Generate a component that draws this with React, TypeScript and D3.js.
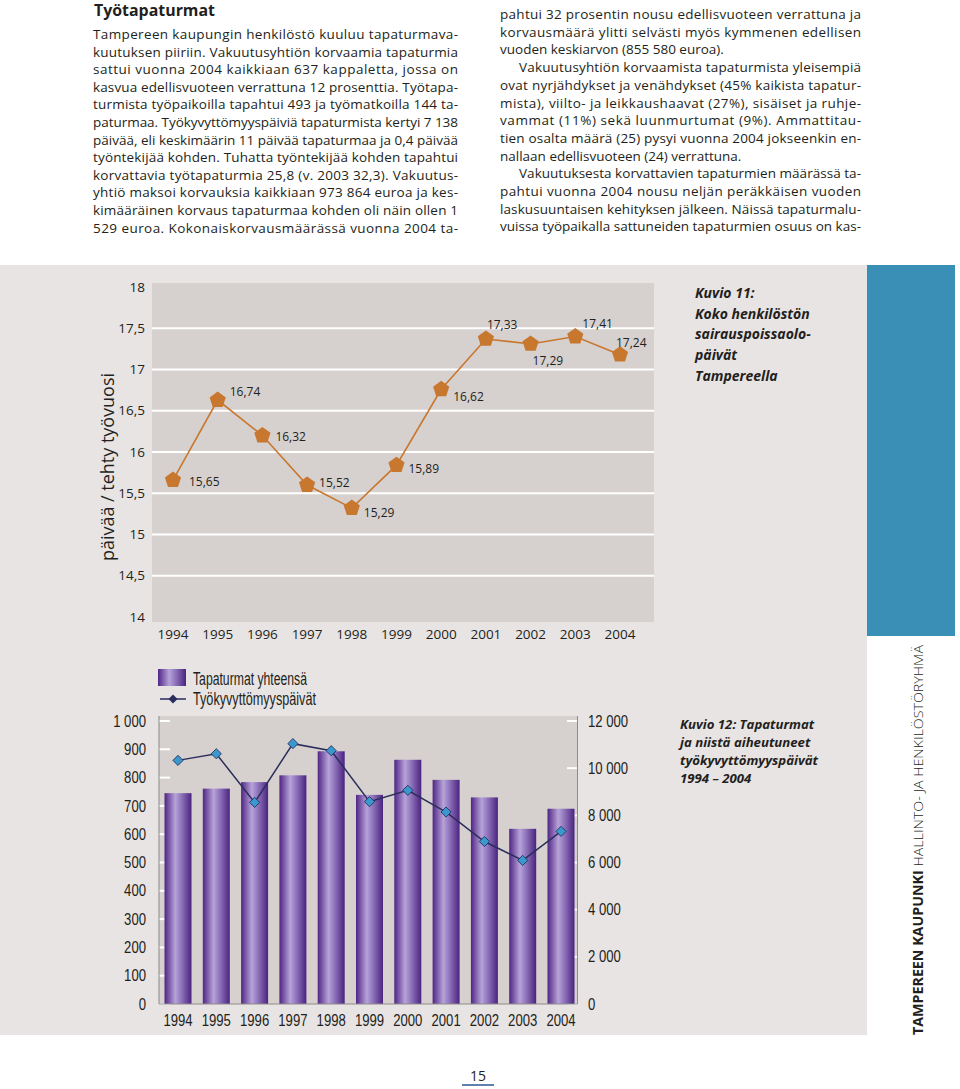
import React from "react";
import * as d3 from "d3";

// ---------- data ----------
const years = ["1994", "1995", "1996", "1997", "1998", "1999", "2000", "2001", "2002", "2003", "2004"];
// Kuvio 11: sick-leave days per work-year (marker positions as drawn) and printed labels
const sickDays = [15.66, 16.63, 16.2, 15.6, 15.32, 15.84, 16.76, 17.37, 17.31, 17.4, 17.18];
const sickDayLabels = ["15,65", "16,74", "16,32", "15,52", "15,29", "15,89", "16,62", "17,33", "17,29", "17,41", "17,24"];
const sickTicks = [14, 14.5, 15, 15.5, 16, 16.5, 17, 17.5, 18];
// label placement relative to marker [dx, dy]
const sickLabelOffsets: [number, number][] = [
  [16, 2], [12, -8], [13, 1], [12, -2], [12, 5], [12, 4], [12, 7], [1, -14], [2, 17], [7, -13], [-4, -12],
];

// Kuvio 12: accidents (left axis) and incapacity days (right axis)
const accidents = [745, 761, 784, 808, 893, 739, 863, 792, 730, 619, 690];
const incapacityDays = [10330, 10610, 8550, 11040, 10740, 8580, 9060, 8140, 6890, 6090, 7320];
const accTicks = [0, 100, 200, 300, 400, 500, 600, 700, 800, 900, 1000];
const dayTicks = [0, 2000, 4000, 6000, 8000, 10000, 12000];

const leftLines = [
  "Tampereen kaupungin henkilöstö kuuluu tapaturmava-",
  "kuutuksen piiriin. Vakuutusyhtiön korvaamia tapaturmia",
  "sattui vuonna 2004 kaikkiaan 637 kappaletta, jossa on",
  "kasvua edellisvuoteen verrattuna 12 prosenttia. Työtapa-",
  "turmista työpaikoilla tapahtui 493 ja työmatkoilla 144 ta-",
  "paturmaa. Työkyvyttömyyspäiviä tapaturmista kertyi 7 138",
  "päivää, eli keskimäärin 11 päivää tapaturmaa ja 0,4 päivää",
  "työntekijää kohden. Tuhatta työntekijää kohden tapahtui",
  "korvattavia työtapaturmia 25,8 (v. 2003 32,3). Vakuutus-",
  "yhtiö maksoi korvauksia kaikkiaan 973 864 euroa ja kes-",
  "kimääräinen korvaus tapaturmaa kohden oli näin ollen 1",
  "529 euroa. Kokonaiskorvausmäärässä vuonna 2004 ta-",
];
// [text, indent, justified]
const rightLines: [string, boolean, boolean][] = [
  ["pahtui 32 prosentin nousu edellisvuoteen verrattuna ja", false, true],
  ["korvausmäärä ylitti selvästi myös kymmenen edellisen", false, true],
  ["vuoden keskiarvon (855 580 euroa).", false, false],
  ["Vakuutusyhtiön korvaamista tapaturmista yleisempiä", true, true],
  ["ovat nyrjähdykset ja venähdykset (45% kaikista tapatur-", false, true],
  ["mista), viilto- ja leikkaushaavat (27%), sisäiset ja ruhje-", false, true],
  ["vammat (11%) sekä luunmurtumat (9%). Ammattitau-", false, true],
  ["tien osalta määrä (25) pysyi vuonna 2004 jokseenkin en-", false, true],
  ["nallaan edellisvuoteen (24) verrattuna.", false, false],
  ["Vakuutuksesta korvattavien tapaturmien määrässä ta-", true, true],
  ["pahtui vuonna 2004 nousu neljän peräkkäisen vuoden", false, true],
  ["laskusuuntaisen kehityksen jälkeen. Näissä tapaturmalu-", false, true],
  ["vuissa työpaikalla sattuneiden tapaturmien osuus on kas-", false, true],
];
const caption11 = ["Kuvio 11:", "Koko henkilöstön", "sairauspoissaolo-", "päivät", "Tampereella"];
const caption12 = ["Kuvio 12: Tapaturmat", "ja niistä aiheutuneet", "työkyvyttömyyspäivät", "1994 – 2004"];
const legendLabels = ["Tapaturmat yhteensä", "Työkyvyttömyyspäivät"];

// ---------- styles ----------
const SANS = "'Open Sans', 'Noto Sans', sans-serif";
const ARIAL = "'Liberation Sans', Arial, sans-serif";
const NARROW_SCALE = 0.82;
const INK = "#231f20";
const PANEL = "#e8e4e3";
const PLOT = "#d6d1ce";
const ORANGE = "#c8772f";

const locale = d3.formatLocale({ decimal: ",", thousands: " ", grouping: [3], currency: ["", ""] });
const fmtThousands = locale.format(",d");
const fmtDec = (v: number) => String(v).replace(".", ",");

function pentagon(r: number) {
  const pts = d3.range(5).map((i) => {
    const a = -Math.PI / 2 + (i * 2 * Math.PI) / 5;
    return [r * Math.cos(a), r * Math.sin(a)] as [number, number];
  });
  return "M" + pts.map((p) => p.join(",")).join("L") + "Z";
}

function Narrow(props: { x: number; y: number; anchor?: string; size?: number; children: React.ReactNode }) {
  const { x, y, anchor = "start", size = 16, children } = props;
  return (
    <text
      transform={`translate(${x},${y}) scale(${NARROW_SCALE},1)`}
      dy="0.35em"
      textAnchor={anchor}
      fontFamily={ARIAL}
      fontSize={size}
      fill={INK}
    >
      {children}
    </text>
  );
}

export default function App() {
  // chart 1 scales
  const x1 = d3.scalePoint<string>().domain(years).range([173, 620]);
  const y1 = d3.scaleLinear().domain([14, 18]).range([617, 287]);
  const line1 = d3
    .line<number>()
    .x((_, i) => x1(years[i])!)
    .y((d) => y1(d));

  // chart 2 scales
  const x2 = d3.scalePoint<string>().domain(years).range([178, 561]);
  const yL = d3.scaleLinear().domain([0, 1000]).range([1004, 721]);
  const yR = d3.scaleLinear().domain([0, 12000]).range([1004, 721]);
  const barW = 27;
  const line2 = d3
    .line<number>()
    .x((_, i) => x2(years[i])!)
    .y((d) => yR(d));
  const pent = pentagon(8.5);

  return (
    <svg width={960} height={1089} style={{ position: "absolute", left: 0, top: 0, display: "block" }}>
      <defs>
        <linearGradient id="barGrad" x1="0" x2="1" y1="0" y2="0">
          <stop offset="0" stopColor="#4f2585" />
          <stop offset="0.4" stopColor="#b7a3d8" />
          <stop offset="0.55" stopColor="#9c83c6" />
          <stop offset="1" stopColor="#4a2380" />
        </linearGradient>
      </defs>
      <rect x={0} y={0} width={960} height={1089} fill="#fff" />

      {/* top text */}
      <text
        x={94}
        y={16}
        fontFamily={SANS}
        fontWeight={700}
        fontSize={15.5}
        fill={INK}
        textLength={121}
        lengthAdjust="spacingAndGlyphs"
      >
        Työtapaturmat
      </text>
      {leftLines.map((t, i) => (
        <text
          key={"l" + i}
          x={93}
          y={39 + i * 17.6}
          fontFamily={SANS}
          fontSize={13.5}
          fill={INK}
          textLength={458 - 93}
          lengthAdjust="spacing"
        >
          {t}
        </text>
      ))}
      {rightLines.map(([t, indent, just], i) => {
        const x0 = indent ? 519 : 500;
        return (
          <text
            key={"r" + i}
            x={x0}
            y={19 + i * 17.7}
            fontFamily={SANS}
            fontSize={13.5}
            fill={INK}
            textLength={just ? 861 - x0 : undefined}
            lengthAdjust="spacing"
          >
            {t}
          </text>
        );
      })}

      {/* panels */}
      <rect x={0} y={265} width={867} height={770} fill={PANEL} />
      <rect x={867} y={265} width={88} height={371} fill="#3a8fb7" />

      {/* ---------- Chart 1 ---------- */}
      <rect x={152} y={283} width={502} height={339} fill={PLOT} />
      {sickTicks
        .filter((t) => t > 14 && t < 18)
        .map((t) => (
          <line key={"g" + t} x1={152} x2={654} y1={y1(t)} y2={y1(t)} stroke="#fff" strokeWidth={2} />
        ))}
      {sickTicks.map((t) => (
        <text key={"yt" + t} x={145} y={y1(t)} dy="0.35em" textAnchor="end" fontFamily={SANS} fontSize={13.5} fill={INK}>
          {fmtDec(t)}
        </text>
      ))}
      {years.map((yr) => (
        <text key={"xt" + yr} x={x1(yr)} y={639} textAnchor="middle" fontFamily={SANS} fontSize={13.5} fill={INK}>
          {yr}
        </text>
      ))}
      <text
        transform="translate(114,467) rotate(-90)"
        textAnchor="middle"
        fontFamily={SANS}
        fontSize={18}
        fill={INK}
        textLength={188}
        lengthAdjust="spacingAndGlyphs"
      >
        päivää / tehty työvuosi
      </text>
      <path d={line1(sickDays) || ""} fill="none" stroke={ORANGE} strokeWidth={1.6} />
      {sickDays.map((v, i) => (
        <path key={"p" + i} d={pent} transform={`translate(${x1(years[i])},${y1(v)})`} fill={ORANGE} />
      ))}
      {sickDays.map((v, i) => (
        <text
          key={"dl" + i}
          x={x1(years[i])! + sickLabelOffsets[i][0]}
          y={y1(v) + sickLabelOffsets[i][1]}
          dy="0.35em"
          fontFamily={SANS}
          fontSize={12}
          fill={INK}
        >
          {sickDayLabels[i]}
        </text>
      ))}

      {/* captions */}
      {caption11.map((t, i) => (
        <text key={"c11" + i} x={695} y={298 + i * 20.7} fontFamily={SANS} fontWeight={700} fontStyle="italic" fontSize={14} fill={INK}>
          {t}
        </text>
      ))}
      {caption12.map((t, i) => (
        <text key={"c12" + i} x={680} y={729 + i * 18} fontFamily={SANS} fontWeight={700} fontStyle="italic" fontSize={13.2} fill={INK}>
          {t}
        </text>
      ))}

      {/* ---------- Chart 2 ---------- */}
      <rect x={159} y={716} width={418.5} height={288} fill={PLOT} />
      {accTicks.map((t) => (
        <line key={"lt" + t} x1={159} x2={170} y1={yL(t)} y2={yL(t)} stroke="#fff" strokeWidth={2} />
      ))}
      {dayTicks.map((t) => (
        <line key={"rt" + t} x1={567} x2={577.5} y1={yR(t)} y2={yR(t)} stroke="#fff" strokeWidth={2} />
      ))}
      {accidents.map((v, i) => (
        <rect
          key={"b" + i}
          x={x2(years[i])! - barW / 2}
          y={yL(v)}
          width={barW}
          height={yL(0) - yL(v)}
          fill="url(#barGrad)"
        />
      ))}
      <line x1={159} x2={159} y1={716} y2={1004} stroke="#8c8a8a" strokeWidth={1} />
      <line x1={577.5} x2={577.5} y1={716} y2={1004} stroke="#8c8a8a" strokeWidth={1} />
      <line x1={159} x2={577.5} y1={1004} y2={1004} stroke="#8c8a8a" strokeWidth={1} />
      <path d={line2(incapacityDays) || ""} fill="none" stroke="#2b2d5c" strokeWidth={1.5} />
      {incapacityDays.map((v, i) => (
        <rect
          key={"d" + i}
          x={-3.6}
          y={-3.6}
          width={7.2}
          height={7.2}
          transform={`translate(${x2(years[i])},${yR(v)}) rotate(45)`}
          fill="#3a98cc"
          stroke="#1f2a5a"
          strokeWidth={0.8}
        />
      ))}
      {accTicks.map((t) => (
        <Narrow key={"al" + t} x={146} y={yL(t)} anchor="end">
          {fmtThousands(t)}
        </Narrow>
      ))}
      {dayTicks.map((t) => (
        <Narrow key={"dr" + t} x={588} y={yR(t)} anchor="start">
          {fmtThousands(t)}
        </Narrow>
      ))}
      {years.map((yr) => (
        <Narrow key={"x2" + yr} x={x2(yr)!} y={1020} anchor="middle">
          {yr}
        </Narrow>
      ))}
      {/* legend */}
      <rect x={158} y={669} width={28} height={17} fill="url(#barGrad)" />
      <text
        x={193}
        y={679}
        dy="0.35em"
        fontFamily={ARIAL}
        fontSize={17.5}
        fill={INK}
        textLength={114}
        lengthAdjust="spacingAndGlyphs"
      >
        {legendLabels[0]}
      </text>
      <line x1={160} x2={186} y1={699} y2={699} stroke="#2b2d5c" strokeWidth={1.5} />
      <rect x={-3.2} y={-3.2} width={6.4} height={6.4} transform="translate(173,699) rotate(45)" fill="#2b2d5c" />
      <text
        x={193}
        y={699}
        dy="0.35em"
        fontFamily={ARIAL}
        fontSize={17.5}
        fill={INK}
        textLength={123}
        lengthAdjust="spacingAndGlyphs"
      >
        {legendLabels[1]}
      </text>

      {/* vertical sidebar text */}
      <text
        transform="translate(923,1035) rotate(-90)"
        fontFamily={SANS}
        fontSize={13.5}
        fill={INK}
        textLength={390}
        lengthAdjust="spacingAndGlyphs"
      >
        <tspan fontWeight={700}>TAMPEREEN KAUPUNKI</tspan>
        <tspan fontWeight={300}> HALLINTO- JA HENKILÖSTÖRYHMÄ</tspan>
      </text>

      {/* page number */}
      <text x={478} y={1081} textAnchor="middle" fontFamily={SANS} fontSize={14} fill={INK}>
        15
      </text>
      <line x1={462} x2={494} y1={1085} y2={1085} stroke="#2b5597" strokeWidth={1.5} />
    </svg>
  );
}
